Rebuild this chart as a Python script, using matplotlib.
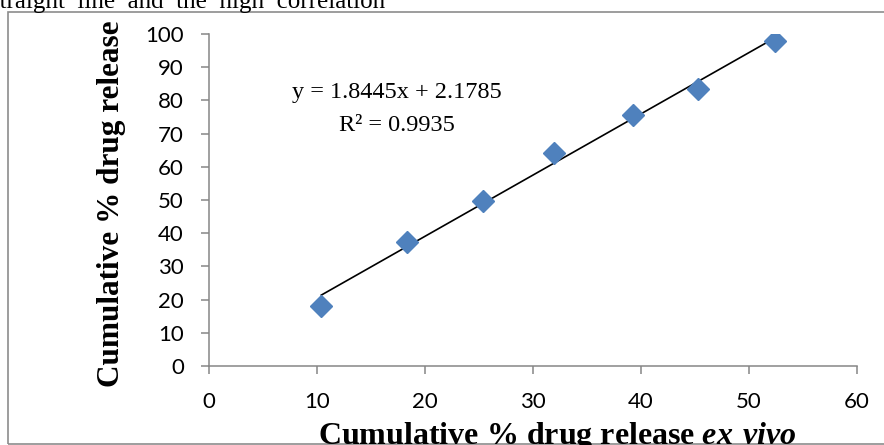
import numpy as np
import matplotlib
matplotlib.use('Agg')
import matplotlib.pyplot as plt
from matplotlib.patches import Rectangle

# data
ex_vivo = [10.4, 18.3, 25.4, 31.9, 39.3, 45.3, 52.4]
in_vitro = [18.2, 37.4, 49.8, 64.2, 75.6, 83.3, 97.8]
slope = 1.8445
intercept = 2.1785
r2 = 0.9935
xticks = [0, 10, 20, 30, 40, 50, 60]
yticks = [0, 10, 20, 30, 40, 50, 60, 70, 80, 90, 100]

plt.rcParams['mathtext.fontset'] = 'custom'
plt.rcParams['mathtext.rm'] = 'Liberation Serif:bold'
plt.rcParams['mathtext.bfit'] = 'Liberation Serif:bold:italic'

fig = plt.figure(figsize=(8.84, 4.45), dpi=100)
ax = fig.add_axes([209/884, 1-366/445, (857-209)/884, (366-34)/445])

# outer frame of the chart box
fig.patches.append(Rectangle((8/884, 0.003), 1.2, (445-12)/445 - 0.003, transform=fig.transFigure,
                             fill=False, edgecolor='#8c8c8c', linewidth=1.2))
fig.text(-10/884, 1-8/445, 'straight  line  and  the  high  correlation', family='Liberation Serif',
         fontsize=18, va='baseline', ha='left')

ax.plot(ex_vivo, in_vitro, 'D', color='#4f81bd', markersize=11, zorder=3)
xx = np.array([ex_vivo[0], ex_vivo[-1]])
ax.plot(xx, slope*xx + intercept, color='black', linewidth=1.2, zorder=2)

ax.set_xlim(0, 60)
ax.set_ylim(0, 100)
ax.set_xticks(xticks)
ax.set_yticks(yticks)
for s in ['top', 'right']:
    ax.spines[s].set_visible(False)
for s in ['left', 'bottom']:
    ax.spines[s].set_color('#868686')
    ax.spines[s].set_linewidth(1.1)
ax.tick_params(colors='#868686', length=6, width=1.1, labelcolor='black', labelsize=16)
ax.tick_params(axis='x', pad=13)
ax.tick_params(axis='y', pad=12)
for lab in ax.get_xticklabels() + ax.get_yticklabels():
    lab.set_family('Lato')

ax.text(17.4, 80.6, 'y = 1.8445x + 2.1785', family='Liberation Serif', fontsize=17.5, ha='center', va='baseline')
ax.text(17.4, 70.8, 'R² = 0.9935', family='Liberation Serif', fontsize=17.5, ha='center', va='baseline')

fig.text(112/884, 1-204/445, 'Cumulative % drug release', family='Liberation Serif', fontweight='bold',
         fontsize=22.5, rotation=90, ha='center', va='center')
fig.text(557/884, 1/445, r'Cumulative % drug release $\mathbfit{ex\ vivo}$', family='Liberation Serif',
         fontweight='bold', fontsize=23, ha='center', va='baseline')

fig.savefig('out.png', dpi=100)
